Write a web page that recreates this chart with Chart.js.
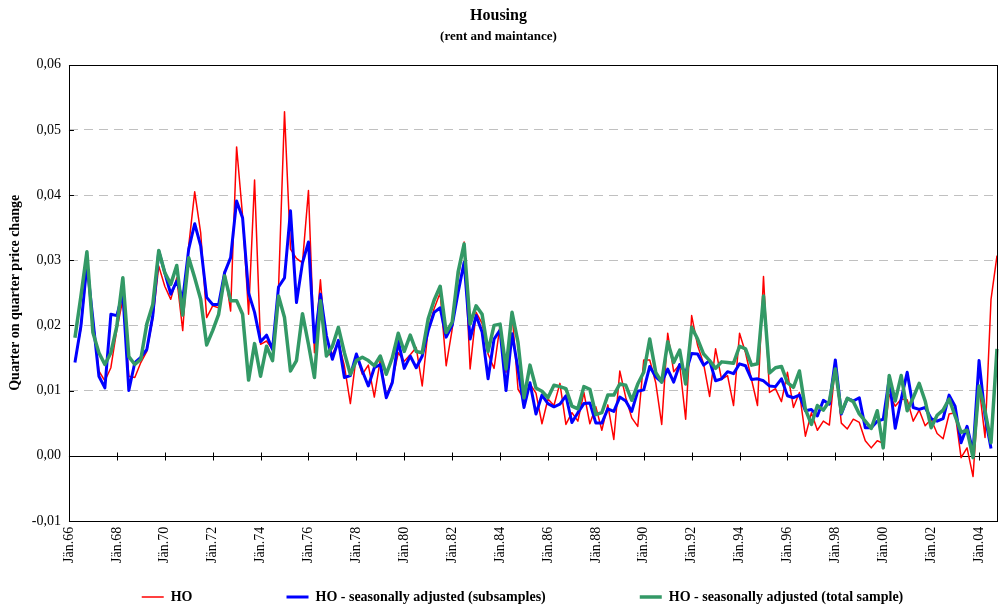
<!DOCTYPE html>
<html>
<head>
<meta charset="utf-8">
<title>Housing</title>
<script src="https://cdn.jsdelivr.net/npm/chart.js@4.4.0/dist/chart.umd.min.js"></script>
<style>
  html, body { margin: 0; padding: 0; background: #fff; }
  #wrap { width: 1002px; height: 609px; position: relative; }
</style>
</head>
<body>
<div id="wrap"><canvas id="chart"></canvas></div>
<script>
// quarters 1966Q1 .. 2004Q4, tick label on Q1 of every second year
const firstYear = 1966;
const lastYear = 2004;
const quarterLabels = [];
for (let y = firstYear; y <= lastYear; y++) {
  const yy = String(y).slice(2);
  for (let q = 1; q <= 4; q++) {
    quarterLabels.push(q === 1 ? 'Jän.' + yy : yy + '/Q' + q);
  }
}

// HO (raw), one row per year, Q1..Q4
const hoRaw = [
  null, 0.0145, 0.0195, 0.029,
  0.021, 0.013, 0.0115, 0.0135,
  0.0194, 0.024, 0.0122, 0.012,
  0.0143, 0.016, 0.021, 0.0291,
  0.026, 0.024, 0.0273, 0.0192,
  0.0322, 0.0405, 0.0342, 0.0212,
  0.023, 0.0227, 0.0284, 0.0222,
  0.0474, 0.0368, 0.0217, 0.0423,
  0.0171, 0.0176, 0.0163, 0.0256,
  0.0528, 0.0317, 0.0303, 0.0296,
  0.0407, 0.0158, 0.027, 0.0154,
  0.0156, 0.0174, 0.0138, 0.008,
  0.0154, 0.0125, 0.0139, 0.009,
  0.0148, 0.0092, 0.0115, 0.0158,
  0.0145, 0.0155, 0.0166, 0.0107,
  0.0195, 0.0226, 0.025, 0.0138,
  0.0194, 0.0272, 0.0328, 0.0133,
  0.022, 0.0203, 0.0156, 0.0134,
  0.02, 0.0128, 0.022, 0.0102,
  0.0087, 0.011, 0.0096, 0.0049,
  0.0087, 0.0077, 0.0111, 0.0048,
  0.0066, 0.0053, 0.0097, 0.0049,
  0.0075, 0.0039, 0.0078, 0.0025,
  0.013, 0.0089, 0.0058, 0.0045,
  0.0147, 0.0147, 0.0112, 0.0048,
  0.0188, 0.0129, 0.014, 0.0056,
  0.0215, 0.0169, 0.0141, 0.0091,
  0.0164, 0.0117, 0.0123, 0.0077,
  0.0188, 0.0158, 0.0117, 0.0077,
  0.0275, 0.0097, 0.0103, 0.0083,
  0.0128, 0.0074, 0.0097, 0.003,
  0.0066, 0.0039, 0.0053, 0.0047,
  0.0138, 0.005, 0.0041, 0.0056,
  0.0051, 0.0023, 0.0012, 0.0023,
  0.0019, 0.0094, 0.0076, 0.0087,
  0.0086, 0.0053, 0.007, 0.0046,
  0.0056, 0.0034, 0.0026, 0.0064,
  0.0066, -0.0003, 0.0012, -0.0032,
  0.0107, 0.0028, 0.024, 0.0307
];

// HO - seasonally adjusted (subsamples)
const hoSaSub = [
  null, 0.0143, 0.0199, 0.0294,
  0.0209, 0.0122, 0.0104, 0.0217,
  0.0215, 0.025, 0.0100, 0.0143,
  0.0151, 0.0163, 0.0215, 0.0314,
  0.0281, 0.0248, 0.0268, 0.024,
  0.0317, 0.0356, 0.0322, 0.0243,
  0.0232, 0.0232, 0.0281, 0.0304,
  0.0391, 0.0365, 0.025, 0.022,
  0.0175, 0.0185, 0.0163, 0.0259,
  0.0273, 0.0376, 0.0235, 0.0296,
  0.0328, 0.0174, 0.0248, 0.0184,
  0.0148, 0.0177, 0.012, 0.0123,
  0.0156, 0.013, 0.0107, 0.0135,
  0.014, 0.0089, 0.0112, 0.0176,
  0.0134, 0.0153, 0.0135, 0.0153,
  0.0192, 0.022, 0.0227, 0.0182,
  0.02, 0.0251, 0.0297, 0.0179,
  0.0215, 0.019, 0.0118, 0.0179,
  0.0193, 0.01, 0.0187, 0.0133,
  0.0074, 0.0112, 0.0064, 0.0093,
  0.008, 0.0075, 0.0079, 0.0092,
  0.0051, 0.0066, 0.008, 0.0081,
  0.005, 0.005, 0.0072, 0.0068,
  0.009, 0.0084, 0.0068, 0.0099,
  0.0101, 0.0137, 0.0121, 0.0113,
  0.0133, 0.0113, 0.014, 0.0127,
  0.0157, 0.0156, 0.0139, 0.0146,
  0.0115, 0.0118, 0.0129, 0.0126,
  0.0141, 0.0138, 0.0117, 0.0118,
  0.0115, 0.0107, 0.0106, 0.0118,
  0.0092, 0.0089, 0.0093, 0.0069,
  0.0071, 0.0061, 0.0085, 0.0079,
  0.0147, 0.0064, 0.0088, 0.0084,
  0.0089, 0.0043, 0.0043, 0.0053,
  0.0056, 0.0118, 0.0042, 0.0087,
  0.0128, 0.0074, 0.0071, 0.0074,
  0.0057, 0.0053, 0.0057, 0.0093,
  0.0076, 0.002, 0.0045, 0.0005,
  0.0146, 0.0061, 0.0011, null
];

// HO - seasonally adjusted (total sample)
const hoSaTotal = [
  null, 0.0181, 0.0245, 0.0313,
  0.0189, 0.0158, 0.014, 0.0158,
  0.0199, 0.0273, 0.0152, 0.014,
  0.0148, 0.0202, 0.0232, 0.0315,
  0.0281, 0.0263, 0.0292, 0.0216,
  0.0304, 0.0273, 0.024, 0.017,
  0.0192, 0.0217, 0.0276, 0.0238,
  0.0238, 0.0217, 0.0116, 0.0172,
  0.0122, 0.0168, 0.0146, 0.0245,
  0.0212, 0.013, 0.0146, 0.0218,
  0.0171, 0.012, 0.0238, 0.0153,
  0.0168, 0.0197, 0.0158, 0.0125,
  0.0146, 0.0151, 0.0146, 0.0138,
  0.0153, 0.0125, 0.015, 0.0188,
  0.016, 0.0185, 0.016, 0.0158,
  0.021, 0.0239, 0.026, 0.0189,
  0.0205, 0.0282, 0.0325, 0.0202,
  0.023, 0.0217, 0.016, 0.02,
  0.0202, 0.0133, 0.022, 0.0174,
  0.0089, 0.0139, 0.0104, 0.0099,
  0.0089, 0.0108, 0.0106, 0.0103,
  0.0076, 0.0072, 0.0106, 0.0102,
  0.0063, 0.0066, 0.0093, 0.0093,
  0.011, 0.0108, 0.0085, 0.011,
  0.0128, 0.0179, 0.0128, 0.0113,
  0.0175, 0.0143, 0.0162, 0.011,
  0.0197, 0.0179, 0.0156, 0.0146,
  0.0134, 0.0144, 0.0143, 0.0142,
  0.0168, 0.0164, 0.0139, 0.0141,
  0.0245, 0.0127, 0.0135, 0.0137,
  0.0112, 0.0105, 0.013, 0.0071,
  0.0048, 0.0077, 0.007, 0.0084,
  0.0133, 0.0066, 0.0088, 0.0083,
  0.0064, 0.0053, 0.0042, 0.0069,
  0.0012, 0.0123, 0.0084, 0.0123,
  0.0069, 0.0089, 0.0111, 0.0084,
  0.0043, 0.0062, 0.007, 0.0087,
  0.0061, 0.0036, 0.0039, -0.0003,
  0.0107, 0.0069, 0.002, 0.0164
];

const serif = "'Liberation Serif', 'Times New Roman', serif";
const legendGap = 94;

// plot frame, zero axis with its tick marks, inner y tick marks
const framePlugin = {
  id: 'frame',
  beforeDatasetsDraw(chart) {
    const { ctx, chartArea: a, scales: { x, y } } = chart;
    const y0 = Math.round(y.getPixelForValue(0)) + 0.5;
    ctx.save();
    ctx.lineWidth = 1;
    ctx.strokeStyle = '#000';
    ctx.beginPath();
    ctx.moveTo(a.left, y0);
    ctx.lineTo(a.right, y0);
    for (let i = 0; i < quarterLabels.length; i += 8) {
      const px = Math.round(x.getPixelForValue(i)) + 0.5;
      ctx.moveTo(px, y0 - 4);
      ctx.lineTo(px, y0 + 4);
    }
    y.ticks.forEach(t => {
      const py = Math.round(y.getPixelForValue(t.value)) + 0.5;
      ctx.moveTo(a.left, py);
      ctx.lineTo(a.left + 5, py);
    });
    ctx.stroke();
    ctx.restore();
  },
  afterDraw(chart) {
    const { ctx, chartArea: a } = chart;
    ctx.save();
    ctx.lineWidth = 1;
    ctx.strokeStyle = '#000';
    ctx.strokeRect(Math.round(a.left) + 0.5, Math.round(a.top) + 0.5,
      Math.round(a.width), Math.round(a.height));
    ctx.restore();
  }
};

// wide gaps between legend entries without a tall legend box
const legendPlugin = {
  id: 'legendPlace',
  afterLayout(chart) {
    const lg = chart.legend;
    lg.top = chart.height - 19 - legendGap;
    lg.left += 24;
    lg.right += 24;
  }
};

new Chart(document.getElementById('chart'), {
  type: 'line',
  data: {
    labels: quarterLabels,
    datasets: [
      {
        label: 'HO',
        data: hoRaw,
        borderColor: '#ff0000',
        backgroundColor: '#ff0000',
        borderWidth: 1.5,
        order: 3
      },
      {
        label: 'HO - seasonally adjusted (subsamples)',
        data: hoSaSub,
        borderColor: '#0000ff',
        backgroundColor: '#0000ff',
        borderWidth: 3,
        order: 2
      },
      {
        label: 'HO - seasonally adjusted (total sample)',
        data: hoSaTotal,
        borderColor: '#339966',
        backgroundColor: '#339966',
        borderWidth: 3.5,
        order: 1
      }
    ]
  },
  options: {
    responsive: true,
    maintainAspectRatio: false,
    animation: false,
    elements: {
      point: { radius: 0, hoverRadius: 0 },
      line: { tension: 0, borderJoinStyle: 'round' }
    },
    layout: { padding: { left: 0, right: 5, top: 0, bottom: 0 } },
    scales: {
      x: {
        type: 'category',
        offset: false,
        grid: { display: false, drawTicks: false },
        border: { display: false },
        ticks: {
          autoSkip: false,
          minRotation: 90,
          maxRotation: 90,
          padding: 6,
          color: '#000',
          font: { family: serif, size: 14 },
          callback: (v, i) => (i % 8 === 0 ? quarterLabels[i] : null)
        }
      },
      y: {
        min: -0.01,
        max: 0.06,
        ticks: {
          stepSize: 0.01,
          padding: 8,
          color: '#000',
          font: { family: serif, size: 14 },
          callback: v => {
            const r = Math.round(v * 100) / 100;
            return (r === 0 ? 0 : r).toFixed(2).replace('.', ',');
          }
        },
        grid: {
          drawTicks: false,
          lineWidth: 1,
          color: c => {
            if (!c.tick) return '#c0c0c0';
            const v = c.tick.value;
            return (Math.abs(v) < 1e-9 || v < -0.0099 || v > 0.0599) ? 'rgba(0,0,0,0)' : '#c0c0c0';
          }
        },
        border: { display: false, dash: [9, 6] },
        title: {
          display: true,
          text: 'Quarter on quarter price change',
          color: '#000',
          font: { family: serif, size: 14, weight: 'bold' },
          padding: { top: 7, bottom: 0 }
        }
      }
    },
    plugins: {
      title: {
        display: true,
        text: 'Housing',
        color: '#000',
        font: { family: serif, size: 16, weight: 'bold' },
        padding: { top: 6, bottom: 4 }
      },
      subtitle: {
        display: true,
        text: '(rent and maintance)',
        color: '#000',
        font: { family: serif, size: 13, weight: 'bold' },
        padding: { top: 0, bottom: 20 }
      },
      legend: {
        position: 'bottom',
        maxHeight: 40,
        labels: {
          usePointStyle: true,
          pointStyle: 'line',
          pointStyleWidth: 22,
          padding: legendGap,
          color: '#000',
          font: { family: serif, size: 14, weight: 'bold' },
          sort: (a, b) => a.datasetIndex - b.datasetIndex
        }
      },
      tooltip: { enabled: false }
    }
  },
  plugins: [framePlugin, legendPlugin]
});
</script>
</body>
</html>
